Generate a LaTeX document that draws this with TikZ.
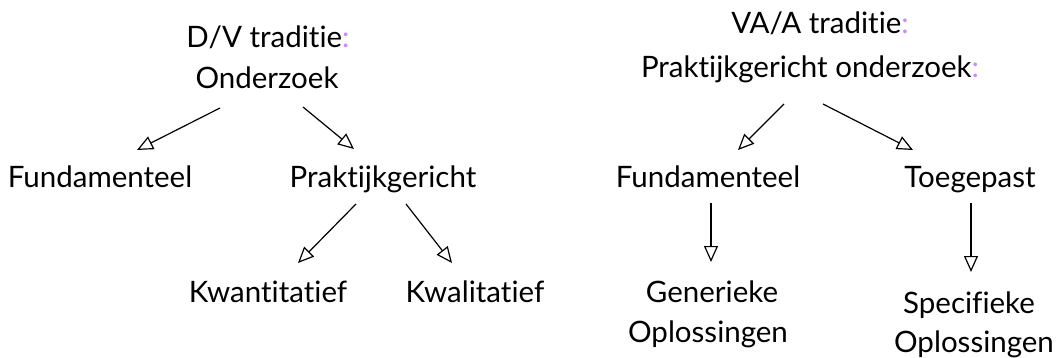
\documentclass[tikz,border=0pt]{standalone}
\usepackage{fontspec}
\setmainfont[Ligatures={NoCommon,NoRare}]{Lato}
\usetikzlibrary{arrows.meta}
\definecolor{colon}{RGB}{205,135,255}
\tikzset{
  lbl/.style={font=\fontsize{29.5}{40}\selectfont, inner sep=0pt, anchor=base},
  arr/.style={line width=1.2pt, -{Triangle[open, length=16pt, width=14pt]}}
}
\begin{document}
\begin{tikzpicture}[x=1pt,y=-1pt]
\useasboundingbox (0,0) rectangle (1060,357);
% left tree
\node[lbl] (dv) at (268,47) {D/V traditie\textcolor{colon}{:}};
\node[lbl] (ond) at (267,88) {Onderzoek};
\node[lbl] (lfund) at (100,187) {Fundamenteel};
\node[lbl] (prak) at (383,187) {Praktijkgericht};
\node[lbl] (kwan) at (268,302) {Kwantitatief};
\node[lbl] (kwal) at (475,302) {Kwalitatief};
\coordinate (a1s) at (220,108); \coordinate (a1e) at (137,150);
\coordinate (a2s) at (303,107); \coordinate (a2e) at (354,149);
\coordinate (a3s) at (356,204); \coordinate (a3e) at (298,263);
\coordinate (a4s) at (406,204); \coordinate (a4e) at (452,263);
\draw[arr] (a1s) -- (a1e);
\draw[arr] (a2s) -- (a2e);
\draw[arr] (a3s) -- (a3e);
\draw[arr] (a4s) -- (a4e);
% right tree
\node[lbl] (va) at (820,33) {VA/A traditie\textcolor{colon}{:}};
\node[lbl] (po) at (810,77) {Praktijkgericht onderzoek\textcolor{colon}{:}};
\node[lbl] (rfund) at (708,187) {Fundamenteel};
\node[lbl] (toe) at (970,187) {Toegepast};
\node[lbl] (gen1) at (712,302) {Generieke};
\node[lbl] (gen2) at (708,342) {Oplossingen};
\node[lbl] (spec1) at (969,313) {Specifieke};
\node[lbl] (spec2) at (974,352) {Oplossingen};
\coordinate (b1s) at (784,104); \coordinate (b1e) at (738,150);
\coordinate (b2s) at (823,104); \coordinate (b2e) at (913,150);
\coordinate (b3s) at (711,203); \coordinate (b3e) at (711,262);
\coordinate (b4s) at (971,203); \coordinate (b4e) at (971,272);
\draw[arr] (b1s) -- (b1e);
\draw[arr] (b2s) -- (b2e);
\draw[arr] (b3s) -- (b3e);
\draw[arr] (b4s) -- (b4e);
\end{tikzpicture}
\end{document}
